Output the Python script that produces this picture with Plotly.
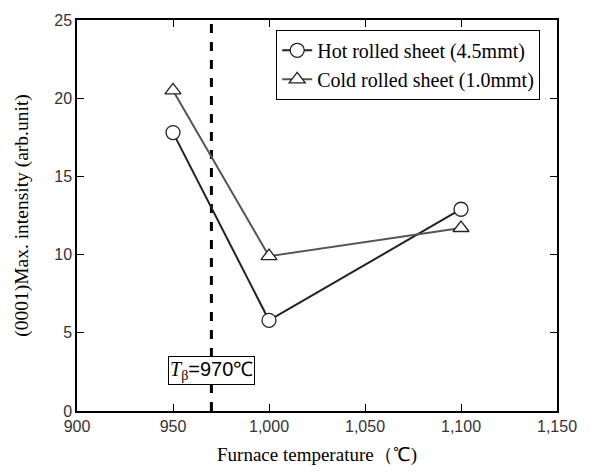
import plotly.graph_objects as go

temps = [950, 1000, 1100]
hot_rolled = [17.8, 5.8, 12.9]
cold_rolled = [20.5, 9.9, 11.7]
t_beta = 970
x_ticks = [900, 950, 1000, 1050, 1100, 1150]
x_tick_labels = ["900", "950", "1,000", "1,050", "1,100", "1,150"]
y_ticks = [0, 5, 10, 15, 20, 25]

serif = "Liberation Serif, Times New Roman, serif"
sans = "Liberation Sans, Arial, sans-serif"

fig = go.Figure()
fig.add_trace(go.Scatter(
    x=temps, y=hot_rolled, mode="lines+markers",
    name="Hot rolled sheet (4.5mmt)",
    line=dict(color="#222222", width=2),
    marker=dict(symbol="circle", size=14, color="white", line=dict(color="#222222", width=1.3)),
))
fig.add_trace(go.Scatter(
    x=temps, y=cold_rolled, mode="lines+markers",
    name="Cold rolled sheet (1.0mmt)",
    line=dict(color="#555555", width=2),
    marker=dict(symbol="triangle-up", size=14, color="white", line=dict(color="#222222", width=1.3)),
))

fig.add_shape(type="line", x0=t_beta, x1=t_beta, y0=0, y1=25, xref="x", yref="y",
              line=dict(color="black", width=3, dash="dash"), layer="below")

fig.add_annotation(x=t_beta, y=2.6, xref="x", yref="y",
                   text="<i>T</i><sub>β</sub><span style='font-family:Liberation Sans'>=970</span>℃",
                   showarrow=False,
                   font=dict(family=serif, size=20, color="black"),
                   bgcolor="white", bordercolor="black", borderwidth=1, borderpad=1)

fig.update_layout(
    width=591, height=474,
    margin=dict(l=77, r=34, t=17, b=62),
    plot_bgcolor="white", paper_bgcolor="white",
    showlegend=True,
    legend=dict(x=0.965, y=0.975, xanchor="right", yanchor="top",
                bgcolor="white", bordercolor="black", borderwidth=1,
                font=dict(family=serif, size=20, color="black"),
                tracegroupgap=0, itemwidth=30),
    xaxis=dict(range=[900, 1150], tickvals=x_ticks, ticktext=x_tick_labels,
               ticks="inside", ticklen=7, tickcolor="black", mirror="ticks",
               showline=True, linecolor="black", linewidth=1.5, showgrid=False, zeroline=False,
               tickfont=dict(family=sans, size=16, color="#333"),
               title=dict(text="Furnace temperature（℃)", font=dict(family=serif, size=19, color="black"), standoff=14)),
    yaxis=dict(range=[0, 25], tickvals=y_ticks,
               ticks="inside", ticklen=7, tickcolor="black", mirror="ticks",
               showline=True, linecolor="black", linewidth=1.5, showgrid=False, zeroline=False,
               tickfont=dict(family=sans, size=16, color="#333"),
               title=dict(text="(0001)Max. intensity (arb.unit)", font=dict(family=serif, size=19.5, color="black"), standoff=20)),
)

fig.write_html("out.html")
